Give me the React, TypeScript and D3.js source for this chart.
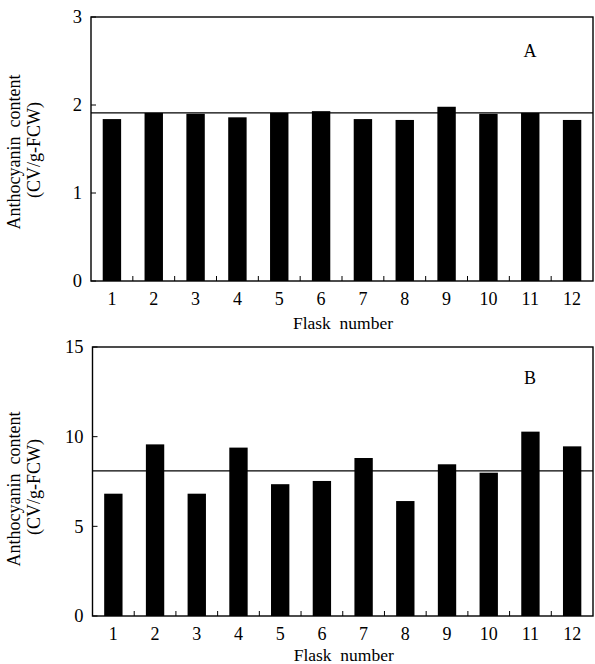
import React from "react";
import * as d3 from "d3";

// Flask numbers on the x axis
const flasks = ["1", "2", "3", "4", "5", "6", "7", "8", "9", "10", "11", "12"];

// Panel A values (CV/g-FCW)
const valuesA = [1.84, 1.91, 1.9, 1.86, 1.91, 1.93, 1.84, 1.83, 1.98, 1.9, 1.91, 1.83];
const meanA = 1.91;
const ticksA = [0, 1, 2, 3];

// Panel B values (CV/g-FCW)
const valuesB = [6.82, 9.57, 6.82, 9.39, 7.35, 7.53, 8.81, 6.41, 8.46, 7.99, 10.28, 9.46];
const meanB = 8.09;
const ticksB = [0, 5, 10, 15];

const FONT = "'Liberation Serif', 'Times New Roman', serif";

type PanelProps = {
  label: string;
  values: number[];
  mean: number;
  ticks: number[];
  left: number;
  top: number;
  bottom: number;
  titleY: number;
  xTitleY: number;
};

const RIGHT = 593;

const Panel = ({ label, values, mean, ticks, left, top, bottom, titleY, xTitleY }: PanelProps) => {
  const x = d3.scaleBand<string>().domain(flasks).range([left, RIGHT]).paddingInner(0.56).paddingOuter(0.28);
  const y = d3.scaleLinear().domain([0, ticks[ticks.length - 1]]).range([bottom, top]);
  const step = x.step();

  return (
    <g>
      {/* bars */}
      {values.map((v, i) => (
        <rect key={i} x={x(flasks[i])} y={y(v)} width={x.bandwidth()} height={y(0) - y(v)} fill="#000" />
      ))}
      {/* mean line */}
      <line x1={left} x2={RIGHT} y1={y(mean)} y2={y(mean)} stroke="#000" strokeWidth={1.3} />
      {/* frame */}
      <rect x={left} y={top} width={RIGHT - left} height={bottom - top} fill="none" stroke="#000" strokeWidth={1.4} />
      {/* y ticks */}
      {ticks.map((t) => (
        <g key={t}>
          <line x1={left} x2={left + 5} y1={y(t)} y2={y(t)} stroke="#000" strokeWidth={1} />
          <text x={left - 9} y={y(t)} dy="0.35em" textAnchor="end" fontSize={18.5} fontFamily={FONT}>
            {t}
          </text>
        </g>
      ))}
      {/* x ticks between bands */}
      {flasks.slice(1).map((f, i) => (
        <line key={f} x1={left + step * (i + 1)} x2={left + step * (i + 1)} y1={bottom} y2={bottom - 5} stroke="#000" strokeWidth={1} />
      ))}
      {flasks.map((f) => (
        <text key={f} x={(x(f) ?? 0) + x.bandwidth() / 2} y={bottom + 24} textAnchor="middle" fontSize={18} fontFamily={FONT}>
          {f}
        </text>
      ))}
      <text x={(left + RIGHT) / 2 + 1} y={xTitleY} textAnchor="middle" fontSize={17.5} fontFamily={FONT} style={{ whiteSpace: "pre" }}>
        {"Flask  number"}
      </text>
      {/* y title */}
      <text transform={`translate(20,${titleY}) rotate(-90)`} textAnchor="middle" fontSize={18} fontFamily={FONT} style={{ whiteSpace: "pre" }}>
        {"Anthocyanin  content"}
      </text>
      <text transform={`translate(40,${titleY - 2}) rotate(-90)`} textAnchor="middle" fontSize={18} fontFamily={FONT}>
        (CV/g-FCW)
      </text>
      {/* panel letter */}
      <text x={530} y={top + (label === "A" ? 40 : 37)} textAnchor="middle" fontSize={18} fontFamily={FONT}>
        {label}
      </text>
    </g>
  );
};

export default function App() {
  return (
    <svg width={595} height={664} style={{ position: "absolute", left: 0, top: 0, background: "#fff" }}>
      <rect width={595} height={664} fill="#fff" />
      <Panel label="A" values={valuesA} mean={meanA} ticks={ticksA} left={91} top={17} bottom={281} titleY={152} xTitleY={329} />
      <Panel label="B" values={valuesB} mean={meanB} ticks={ticksB} left={92.5} top={347} bottom={616} titleY={489} xTitleY={661} />
    </svg>
  );
}
